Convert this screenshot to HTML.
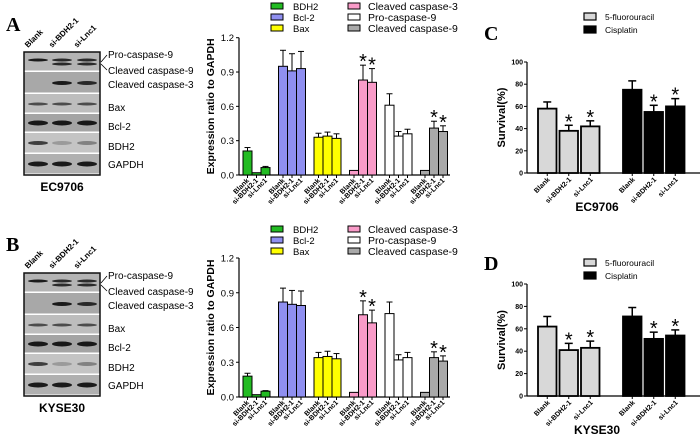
<!DOCTYPE html>
<html><head><meta charset="utf-8"><style>
html,body{margin:0;padding:0;background:#fff}
svg{display:block;font-family:"Liberation Sans",Arial,sans-serif}
</style></head><body>
<svg id="fig" width="700" height="441" viewBox="0 0 700 441" xmlns="http://www.w3.org/2000/svg">
<text x="6" y="31" font-family="Liberation Serif" font-weight="bold" font-size="20">A</text>
<text x="6" y="251" font-family="Liberation Serif" font-weight="bold" font-size="20">B</text>
<text x="484" y="40" font-family="Liberation Serif" font-weight="bold" font-size="20">C</text>
<text x="484" y="270" font-family="Liberation Serif" font-weight="bold" font-size="20">D</text>
</svg>
<script>
const NS="http://www.w3.org/2000/svg";
const svg=document.getElementById('fig');
function mk(tag,attrs,parent,text){const e=document.createElementNS(NS,tag);for(const k in attrs)e.setAttribute(k,attrs[k]);if(text!==undefined)e.textContent=text;(parent||svg).appendChild(e);return e;}

// ---------- data ----------
const samples=["Blank","si-BDH2-1","si-Lnc1"];
const proteins=["BDH2","Bcl-2","Bax","Cleaved caspase-3","Pro-caspase-9","Cleaved caspase-9"];
const proteinColors=["#22bb22","#8f8ff0","#ffff00","#f99bc8","#ffffff","#a9a9a9"];
const yTicksExpr=[0.0,0.3,0.6,0.9,1.2];
const ecExpr=[[0.21,0.02,0.065],[0.95,0.91,0.93],[0.33,0.34,0.32],[0.04,0.83,0.81],[0.61,0.34,0.36],[0.04,0.41,0.38]];
const ecExprErr=[[0.03,0,0.01],[0.14,0.15,0.15],[0.035,0.035,0.04],[0,0.13,0.12],[0.1,0.04,0.04],[0,0.06,0.05]];
const kyExpr=[[0.18,0.02,0.05],[0.82,0.80,0.79],[0.34,0.35,0.33],[0.04,0.71,0.64],[0.72,0.32,0.34],[0.04,0.34,0.31]];
const kyExprErr=[[0.025,0,0.005],[0.12,0.12,0.125],[0.045,0.045,0.045],[0,0.12,0.11],[0.1,0.045,0.045],[0,0.05,0.045]];
const sigExpr=[[0,0,0],[0,0,0],[0,0,0],[0,1,1],[0,0,0],[0,1,1]];
const drugs=["5-fluorouracil","Cisplatin"];
const drugColors=["#d8d8d8","#000000"];
const yTicksSurv=[0,20,40,60,80,100];
const ecSurv=[[58,38,42],[75,55,60]];
const ecSurvErr=[[6,5,5],[8,6,7]];
const kySurv=[[62,41,43],[71,51,54]];
const kySurvErr=[[9,6,6],[8,6,5]];
const sigSurv=[[0,1,1],[0,1,1]];
const blotRows=["Pro-caspase-9","Cleaved caspase-9","Cleaved caspase-3","Bax","Bcl-2","BDH2","GAPDH"];

// ---------- blots ----------
function blot(top,cell,name){
  const g=mk('g',{},svg);
  
  
  const left=24,right=100;
  const seps=[0,20,42,62,81,102,123].map(v=>top+v);
  const bg=["#b4b4b4","#a8a8a8","#bdbdbd","#a4a4a4","#c4c4c4","#b0b0b0"];
  for(let i=0;i<6;i++){mk('rect',{x:left,y:seps[i],width:right-left,height:seps[i+1]-seps[i]-1.5,fill:bg[i]},g);}
  mk('rect',{x:left,y:top,width:right-left,height:123,fill:'none',stroke:'#111','stroke-width':1.5},g);
  const cx=[38,62,87];
  const bands=[
    {y:8,i:[1,.9,.9],h:3},{y:12,i:[0,.9,.9],h:3},
    {y:31,i:[0,1,.9],h:4},{y:52,i:[.7,.7,.7],h:3},
    {y:71,i:[1,1,1],h:5},{y:91,i:[.8,.25,.4],h:4},{y:112,i:[1,1,1],h:5}];
  bands.forEach(b=>cx.forEach((x,k)=>{if(b.i[k]>0)mk('ellipse',{cx:x,cy:top+b.y,rx:10,ry:b.h/2,fill:'#000','fill-opacity':b.i[k]*0.85},g);}));
  const ly=[2,18,32,55,74,94,112];
  blotRows.forEach((r,i)=>{const t=mk('text',{x:108,y:top+ly[i]+4,'font-size':10},g,r);
    });
  mk('polyline',{points:`${right+1},${top+10} ${107},${top+3}`,stroke:'#000',fill:'none','stroke-width':0.8},g);
  mk('polyline',{points:`${right+1},${top+12} ${107},${top+18}`,stroke:'#000',fill:'none','stroke-width':0.8},g);
  samples.forEach((s,i)=>{const t=mk('text',{x:cx[i]-10,y:top-4,'font-size':8,'font-weight':'bold',transform:`rotate(-45 ${cx[i]-10} ${top-4})`},g,s);
    });
  const c=mk('text',{x:62,y:top+139,'font-size':12,'font-weight':'bold','text-anchor':'middle'},g,cell);
  
}
blot(52,"EC9706","blot-ec9706");
blot(273,"KYSE30","blot-kyse30");

// ---------- expression charts ----------
function exprChart(y0,y1,vals,errs,legY,name){
  const g=mk('g',{},svg);
  
  
  const ax=239;
  const ys=v=>y0+(y1-y0)*(v/1.2);
  const bx=(gi,i)=>243+35.5*gi+9*i;
  mk('line',{x1:ax,y1:y1,x2:ax,y2:y0,stroke:'#000','stroke-width':1.2},g);
  mk('line',{x1:ax,y1:y0,x2:450,y2:y0,stroke:'#000','stroke-width':1.2},g);
  yTicksExpr.forEach(v=>{mk('line',{x1:ax-3,x2:ax,y1:ys(v),y2:ys(v),stroke:'#000'},g);
    const t=mk('text',{x:ax-5,y:ys(v)+3.5,'font-size':9.5,'text-anchor':'end'},g,v.toFixed(1));
    });
  const tt=mk('text',{x:0,y:0,'font-size':10.5,'font-weight':'bold','text-anchor':'middle',transform:`translate(214 ${(y0+y1)/2}) rotate(-90)`},g,"Expression ratio to GAPDH");
  
  vals.forEach((grp,gi)=>grp.forEach((v,i)=>{
    const x=bx(gi,i),cx=x+4.5,top=ys(v);
    if(errs[gi][i]>0){const et=ys(v+errs[gi][i]);
      mk('line',{x1:cx,x2:cx,y1:top,y2:et,stroke:'#000','stroke-width':1},g);
      mk('line',{x1:cx-3,x2:cx+3,y1:et,y2:et,stroke:'#000','stroke-width':1},g);
      if(sigExpr[gi][i]){const a=mk('text',{x:cx,y:et+3,'font-size':20,'text-anchor':'middle'},g,"*");
        }}
    const r=mk('rect',{x:x,y:top,width:9,height:y0-top,fill:proteinColors[gi],stroke:'#000','stroke-width':1},g);
    
    
    mk('line',{x1:cx,x2:cx,y1:y0,y2:y0+3,stroke:'#000'},g);
    const t=mk('text',{x:cx+2,y:y0+6,'font-size':7,'font-weight':'bold','text-anchor':'end',transform:`rotate(-45 ${cx+2} ${y0+6})`},g,samples[i]);
    
  }));
  proteins.forEach((p,i)=>{const col=Math.floor(i/3),row=i%3;
    const lx=col?348:271, tx=col?368:293, ly=legY+row*11;
    const e=mk('g',{},g);
    
    mk('rect',{x:lx,y:ly-7,width:12,height:6,fill:proteinColors[i],stroke:'#000','stroke-width':1},e);
    mk('text',{x:tx,y:ly,'font-size':col?10.5:9.5},e,p);});
}
exprChart(175,37.7,ecExpr,ecExprErr,10,"chart-expression-ec9706");
exprChart(397,258,kyExpr,kyExprErr,233,"chart-expression-kyse30");

// ---------- survival charts ----------
function survChart(y0,y1,vals,errs,legY,cell,name){
  const g=mk('g',{},svg);
  
  
  const ax=527;
  const ys=v=>y0+(y1-y0)*(v/100);
  const bx=(gi,i)=>538+85*gi+21.5*i;
  mk('line',{x1:ax,y1:y1,x2:ax,y2:y0,stroke:'#000','stroke-width':1.2},g);
  mk('line',{x1:ax,y1:y0,x2:700,y2:y0,stroke:'#000','stroke-width':1.2},g);
  yTicksSurv.forEach(v=>{mk('line',{x1:ax-3,x2:ax,y1:ys(v),y2:ys(v),stroke:'#000'},g);
    const t=mk('text',{x:ax-4,y:ys(v)+2.5,'font-size':7,'font-weight':'bold','text-anchor':'end'},g,String(v));
    });
  const tt=mk('text',{x:0,y:0,'font-size':11,'font-weight':'bold','text-anchor':'middle',transform:`translate(505 ${(y0+y1)/2}) rotate(-90)`},g,"Survival(%)");
  
  vals.forEach((grp,gi)=>grp.forEach((v,i)=>{
    const x=bx(gi,i),w=18.5,cx=x+w/2,top=ys(v),et=ys(v+errs[gi][i]);
    mk('line',{x1:cx,x2:cx,y1:top,y2:et,stroke:'#000','stroke-width':1.5},g);
    mk('line',{x1:cx-4,x2:cx+4,y1:et,y2:et,stroke:'#000','stroke-width':1.5},g);
    if(sigSurv[gi][i]){const a=mk('text',{x:cx,y:et+3,'font-size':20,'text-anchor':'middle'},g,"*");
      }
    const r=mk('rect',{x:x,y:top,width:w,height:y0-top,fill:drugColors[gi],stroke:'#000','stroke-width':1.8},g);
    
    
    mk('line',{x1:cx,x2:cx,y1:y0,y2:y0+3,stroke:'#000'},g);
    const t=mk('text',{x:cx+3,y:y0+7,'font-size':7,'font-weight':'bold','text-anchor':'end',transform:`rotate(-45 ${cx+3} ${y0+7})`},g,samples[i]);
    
  }));
  const c=mk('text',{x:597,y:y0+38,'font-size':12,'font-weight':'bold','text-anchor':'middle'},g,cell);
  
  drugs.forEach((d,i)=>{const e=mk('g',{},g);
    
    const ly=legY+i*13;
    mk('rect',{x:584,y:ly-7,width:12,height:7,fill:drugColors[i],stroke:'#000','stroke-width':1.2},e);
    mk('text',{x:605,y:ly,'font-size':8.5},e,d);});
}
survChart(173,62,ecSurv,ecSurvErr,20,"EC9706","chart-survival-ec9706");
survChart(396,284,kySurv,kySurvErr,266,"KYSE30","chart-survival-kyse30");
</script>
</body></html>
